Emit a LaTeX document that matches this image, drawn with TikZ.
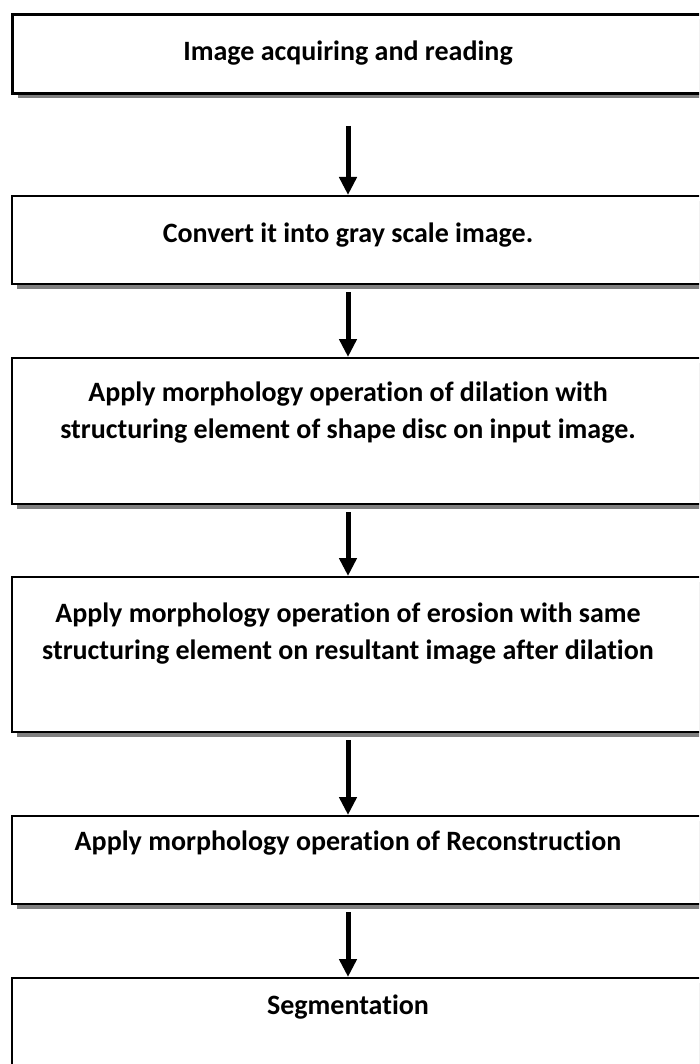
\documentclass[tikz,border=0pt]{standalone}
\usepackage{fontspec}
\setmainfont{Carlito}[Ligatures=NoCommon]
\usetikzlibrary{shadows,arrows.meta}
\begin{document}
\begin{tikzpicture}[x=1pt,y=1pt,
  box/.style={draw=black, line width=2pt, fill=white, anchor=north west, minimum width=720pt, inner sep=0pt,
    drop shadow={shadow xshift=5pt, shadow yshift=-5pt, fill=black!50, opacity=1}},
  txt/.style={anchor=north, align=center, font=\bfseries\fontsize{28}{37}\selectfont, inner sep=0pt},
  arr/.style={line width=5pt, -{Triangle[width=17pt,length=18pt]}}]
\clip (0,0) rectangle (699,-1064);
\fill[white] (0,0) rectangle (699,-1064);
\coordinate (ax) at (348,0);
\node[box, line width=3pt, minimum height=79pt] (b1) at (11,-13) {};
\node[box, minimum height=88pt] (b2) at (11,-195) {};
\node[box, minimum height=146pt] (b3) at (11,-357) {};
\node[box, minimum height=155pt] (b4) at (11,-576) {};
\node[box, minimum height=88pt] (b5) at (11,-815) {};
\node[box, minimum height=120pt] (b6) at (11,-977) {};
\node[txt] (t1) at (348,-41) {Image acquiring and reading};
\node[txt] (t2) at (348,-223) {Convert it into gray scale image.};
\node[txt] (t3) at (348,-382) {Apply morphology operation of dilation with\\structuring element of shape disc on input image.};
\node[txt] (t4) at (348,-603) {Apply morphology operation of erosion with same\\structuring element on resultant image after dilation};
\node[txt] (t5) at (348,-831) {Apply morphology operation of Reconstruction};
\node[txt] (t6) at (348,-995) {Segmentation};
\draw[arr] ([yshift=-31pt]b1.south -| ax) -- (b2.north -| ax);
\draw[arr] ([yshift=-7pt]b2.south -| ax) -- (b3.north -| ax);
\draw[arr] ([yshift=-7pt]b3.south -| ax) -- (b4.north -| ax);
\draw[arr] ([yshift=-7pt]b4.south -| ax) -- (b5.north -| ax);
\draw[arr] ([yshift=-7pt]b5.south -| ax) -- (b6.north -| ax);
\end{tikzpicture}
\end{document}
